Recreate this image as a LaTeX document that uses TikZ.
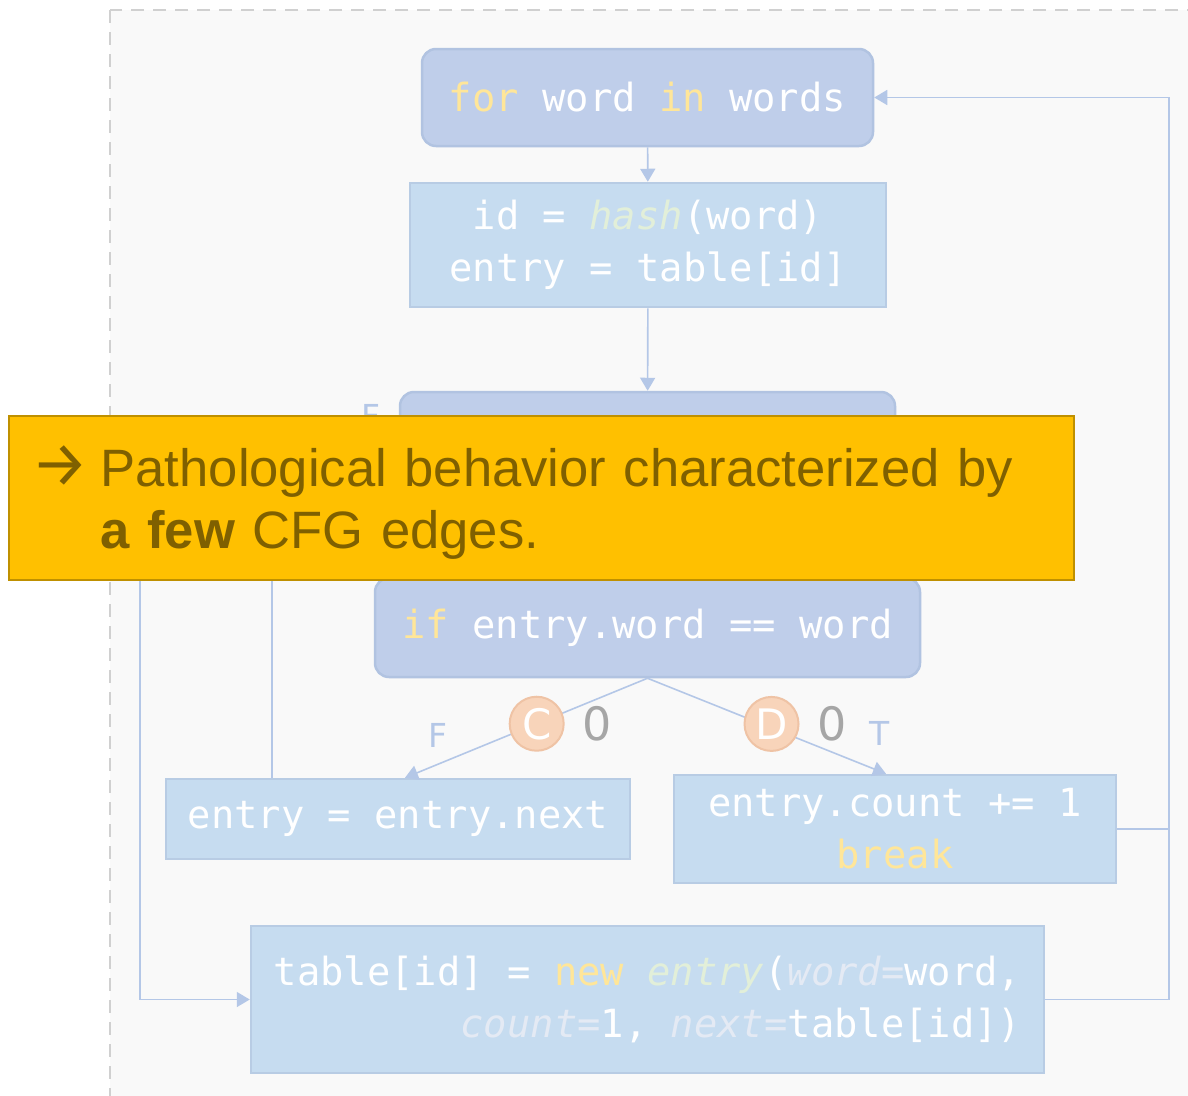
\documentclass[tikz,border=0pt]{standalone}
\usepackage{fontspec}
\setmonofont{DejaVu Sans Mono}
\newfontfamily\calloutfont{Liberation Sans}
\newfontfamily\arrowfont{Fira Sans}
\newfontfamily\labelfont{DejaVu Sans}
\usetikzlibrary{arrows.meta}
\usepackage{xcolor}

\definecolor{loopfill}{HTML}{BFCEEA}
\definecolor{loopdraw}{HTML}{B1C3E1}
\definecolor{stmtfill}{HTML}{C6DCF0}
\definecolor{stmtdraw}{HTML}{B8CCE4}
\definecolor{edgeblue}{HTML}{B4C7E7}
\definecolor{kwyellow}{HTML}{FFE699}
\definecolor{fngreen}{HTML}{E2EFD9}
\definecolor{arggrey}{HTML}{E4EAF4}
\definecolor{probefill}{HTML}{F8D4BA}
\definecolor{probedraw}{HTML}{EFC3A5}
\definecolor{hitgrey}{HTML}{A6A6A6}
\definecolor{calloutfill}{HTML}{FFC000}
\definecolor{calloutdraw}{HTML}{BF9000}
\definecolor{callouttext}{HTML}{7F6000}
\definecolor{framegrey}{HTML}{D0D0D0}
\definecolor{framefill}{HTML}{F9F9F9}

\newcommand{\kwd}[1]{\textcolor{kwyellow}{#1}}
\newcommand{\fnc}[1]{\textcolor{fngreen}{\itshape #1}}
\newcommand{\argn}[1]{\textcolor{arggrey}{\itshape #1}}
\newcommand{\bigarrow}{{\arrowfont\fontsize{64}{64}\selectfont →}\hspace{12pt}}

\begin{document}
\begin{tikzpicture}[x=1pt,y=-1pt,>={Triangle[width=15pt,length=13pt]},
  code/.style={font=\ttfamily\fontsize{38.8}{52}\selectfont,text=white,
    inner sep=0pt,line width=2.5pt,align=center},
  loopbox/.style={code,rounded corners=14pt,fill=loopfill,draw=loopdraw},
  stmtbox/.style={code,fill=stmtfill,draw=stmtdraw},
  link/.style={draw=edgeblue,line width=1.6pt},
  edge/.style={link,->},
  branch/.style={font=\labelfont\fontsize{33}{33}\selectfont,text=edgeblue},
  hits/.style={font=\labelfont\fontsize{46}{46}\selectfont,text=hitgrey},
  probe/.style={circle,minimum size=54pt,inner sep=0pt,fill=probefill,
    draw=probedraw,line width=2pt,text=white,
    font=\labelfont\fontsize{42}{42}\selectfont,
    label={[hits,label distance=14pt]right:0}},
  callout/.style={fill=calloutfill,draw=calloutdraw,line width=2pt,
    text=callouttext,font=\calloutfont\fontsize{52.6}{61.5}\selectfont,
    align=left,text width=1021pt,inner xsep=22pt,minimum height=164pt,
    text height=49.5pt,text depth=72.5pt}]

  \useasboundingbox (0,0) rectangle (1188,1095);
  \clip (0,0) rectangle (1188,1095);
  \fill[white] (0,0) rectangle (1188,1095);
  \draw[framegrey,fill=framefill,line width=2pt,dash pattern=on 13pt off 9pt]
    (110,10) rectangle (1230,1140);

  % control flow graph
  \node[loopbox,minimum width=451pt,minimum height=97pt] (for) at (647.5,97.5)
    {\kwd{for} word \kwd{in} words};
  \node[stmtbox,minimum width=476pt,minimum height=124pt] (init) at (648,245)
    {id = \fnc{hash}(word)\\entry = table[id]};
  \node[loopbox,minimum width=495pt,minimum height=97pt] (whl) at (647.5,440.5) {};
  \node[loopbox,minimum width=545pt,minimum height=99pt] (cond) at (647.5,627.5)
    {\kwd{if} entry.word == word};
  \node[stmtbox,minimum width=464pt,minimum height=80pt] (nxt) at (398,819)
    {entry = entry.next};
  \node[stmtbox,minimum width=442pt,minimum height=108pt] (cnt) at (895,829)
    {entry.count += 1\\\kwd{break}};
  \node[stmtbox,minimum width=793pt,minimum height=147pt,align=right] (tbl) at (647.5,999.5)
    {table[id] = \kwd{new} \fnc{entry}(\argn{word=}word,\\\argn{count=}1, \argn{next=}table[id])};

  \draw[edge] (for) -- (init);
  \draw[edge] (init) -- (whl);
  \draw[edge] (whl) -- (cond);

  \coordinate (fl) at (140,440.5);
  \draw[edge] (whl.west) -- (fl) |- (tbl.west);
  \node[branch] (fW) at (371,416) {F};

  \coordinate (bk) at (272,470);
  \draw[edge] (nxt.north -| bk) -- (bk) -- (bk -| whl.west);

  \draw[edge] (cond.south) -- node[pos=0.457,probe] (pC) {C} ([xshift=7pt]nxt.north);
  \draw[edge] (cond.south) -- node[pos=0.52,probe,yshift=4pt] (pD) {D} ([xshift=-9pt]cnt.north);
  \node[branch] (fC) at (438,735) {F};
  \node[branch] (tD) at (880,733) {T};

  \coordinate (rl) at (1169,999.5);
  \draw[edge] (tbl.east) -- (tbl.east -| rl) |- (for.east);
  \draw[link] (cnt.east) -- (cnt.east -| rl);

  % the remark on top
  \node[callout,anchor=north west] (note) at (8,415)
    {\bigarrow Pathological behavior characterized by\\
     \phantom{\bigarrow}\textbf{a few} CFG edges.};
\end{tikzpicture}
\end{document}
